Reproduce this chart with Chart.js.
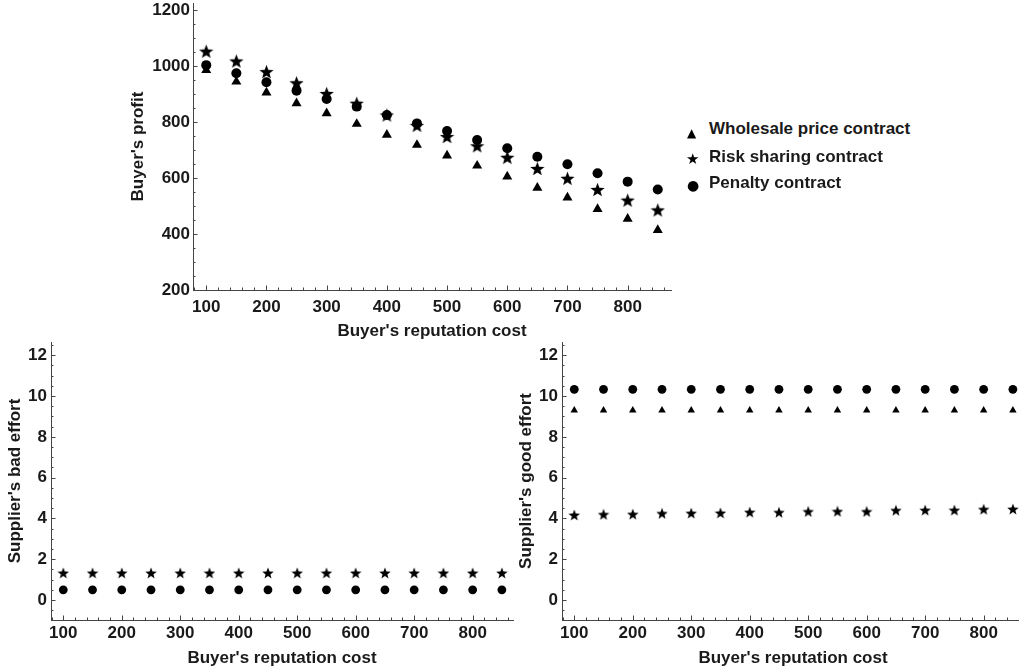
<!DOCTYPE html>
<html>
<head>
<meta charset="utf-8">
<script src="https://cdn.jsdelivr.net/npm/chart.js@4.4.1/dist/chart.umd.min.js"></script>
<style>
  html, body { margin: 0; padding: 0; background: #fff; width: 1019px; height: 669px; overflow: hidden; position: relative; }
  canvas { position: absolute; }
  .leg { position: absolute; font: bold 17px "Liberation Sans", Arial, sans-serif; line-height: 20px; color: #1a1a1a; white-space: nowrap; }
  .sym { position: absolute; font-family: "DejaVu Sans", sans-serif; color: #000; line-height: 1; }
</style>
</head>
<body>
<canvas id="top" width="600" height="349" style="left:100px;top:-4px;"></canvas>
<canvas id="bad" width="530" height="334" style="left:0px;top:335px;"></canvas>
<canvas id="good" width="530" height="334" style="left:500px;top:335px;"></canvas>

<div class="sym" style="left:687px;top:127px;font-size:12px;">▲</div>
<div class="sym" style="left:686px;top:152px;font-size:15px;">★</div>
<div class="sym" style="left:687px;top:178px;font-size:14px;">●</div>
<div class="leg" style="left:709px;top:119px;">Wholesale price contract</div>
<div class="leg" style="left:709px;top:147px;">Risk sharing contract</div>
<div class="leg" style="left:709px;top:173px;">Penalty contract</div>

<script>
// ---------------- DATA ----------------
const reputationCost = [100, 150, 200, 250, 300, 350, 400, 450, 500, 550, 600, 650, 700, 750, 800, 850];

const profitWholesale   = [985, 944, 905, 867, 831, 793, 754, 718, 680, 644, 605, 565, 530, 489, 454, 414];
const profitRiskSharing = [1053, 1018, 980, 940, 902, 867, 825, 788, 748, 715, 674, 634, 599, 559, 521, 486];
const profitPenalty     = [1003, 974, 942, 912, 882, 855, 825, 795, 768, 736, 706, 676, 649, 617, 587, 559];

const badEffortRiskSharing = [1.33, 1.33, 1.33, 1.33, 1.33, 1.33, 1.33, 1.33, 1.33, 1.33, 1.33, 1.33, 1.33, 1.33, 1.33, 1.33];
const badEffortPenalty     = [0.5, 0.5, 0.5, 0.5, 0.5, 0.5, 0.5, 0.5, 0.5, 0.5, 0.5, 0.5, 0.5, 0.5, 0.5, 0.5];

const goodEffortWholesale   = [9.3, 9.3, 9.3, 9.3, 9.3, 9.3, 9.3, 9.3, 9.3, 9.3, 9.3, 9.3, 9.3, 9.3, 9.3, 9.3];
const goodEffortRiskSharing = [4.17, 4.2, 4.21, 4.25, 4.26, 4.27, 4.31, 4.3, 4.34, 4.35, 4.34, 4.4, 4.41, 4.41, 4.45, 4.46];
const goodEffortPenalty     = [10.33, 10.33, 10.33, 10.33, 10.33, 10.33, 10.33, 10.33, 10.33, 10.33, 10.33, 10.33, 10.33, 10.33, 10.33, 10.33];

const xTickValues      = [100, 200, 300, 400, 500, 600, 700, 800];
const profitTickValues = [200, 400, 600, 800, 1000, 1200];
const effortTickValues = [0, 2, 4, 6, 8, 10, 12];

const xTitle = "Buyer's reputation cost";
const seriesNames = ["Wholesale price contract", "Risk sharing contract", "Penalty contract"];

// ---------------- STYLE ----------------
const FONT = { family: '"Liberation Sans", Arial, sans-serif', size: 17, weight: 'bold' };
const TEXT = '#1a1a1a';
const AXIS = '#444';

function makeStar(size) {
  const c = document.createElement('canvas');
  c.width = size; c.height = size;
  const g = c.getContext('2d');
  const cx = size / 2, cy = size / 2 + size * 0.05;
  const R = size / 2, r = R * 0.42;
  g.beginPath();
  for (let i = 0; i < 10; i++) {
    const a = -Math.PI / 2 + i * Math.PI / 5;
    const rad = i % 2 === 0 ? R : r;
    const px = cx + rad * Math.cos(a), py = cy + rad * Math.sin(a);
    if (i === 0) g.moveTo(px, py); else g.lineTo(px, py);
  }
  g.closePath();
  g.fillStyle = '#000';
  g.fill();
  return c;
}

const pts = (ys) => reputationCost.map((x, i) => ({ x, y: ys[i] }));

const insideTicks = {
  id: 'insideTicks',
  afterDraw(chart, args, opts) {
    const { ctx, chartArea: a, scales } = chart;
    ctx.save();
    ctx.strokeStyle = AXIS;
    ctx.lineWidth = 1;
    const draw = (scale, step, len, horiz) => {
      const start = Math.ceil(scale.min / step - 1e-9) * step;
      for (let v = start; v <= scale.max + 1e-9; v += step) {
        const p = Math.round(scale.getPixelForValue(v)) + 0.5;
        ctx.beginPath();
        if (horiz) { ctx.moveTo(p, a.bottom); ctx.lineTo(p, a.bottom - len); }
        else { ctx.moveTo(a.left, p); ctx.lineTo(a.left + len, p); }
        ctx.stroke();
      }
    };
    draw(scales.x, opts.xMinor, 2.5, true);
    draw(scales.x, opts.xMajor, 4.5, true);
    draw(scales.y, opts.yMinor, 2.5, false);
    draw(scales.y, opts.yMajor, 4.5, false);
    ctx.restore();
  }
};

function makeChart(id, cfg) {
  const datasets = cfg.series.map(s => ({
    label: s.label,
    data: pts(s.values),
    showLine: false,
    pointStyle: s.style,
    pointRadius: s.radius,
    pointHoverRadius: s.radius,
    backgroundColor: '#000',
    borderColor: '#000',
    borderWidth: 0,
    order: s.order
  }));
  return new Chart(document.getElementById(id), {
    type: 'scatter',
    data: { datasets },
    plugins: [insideTicks],
    options: {
      responsive: false,
      animation: false,
      devicePixelRatio: 1,
      layout: { padding: cfg.padding },
      plugins: {
        legend: { display: false },
        tooltip: { enabled: false },
        insideTicks: cfg.ticks
      },
      scales: {
        x: {
          type: 'linear',
          min: cfg.xRange[0], max: cfg.xRange[1],
          afterBuildTicks: s => { s.ticks = xTickValues.map(v => ({ value: v })); },
          afterFit: s => { s.height = cfg.xAxisHeight; s.paddingLeft = 0; s.paddingRight = 0; },
          grid: { display: true, drawOnChartArea: false, drawTicks: false },
          border: { display: true, color: AXIS, width: 1 },
          ticks: { font: FONT, color: TEXT, padding: cfg.xTickPad, maxRotation: 0, autoSkip: false, callback: v => String(v) },
          title: { display: true, text: xTitle, font: FONT, color: TEXT, padding: { top: 0, bottom: cfg.xTitlePad } }
        },
        y: {
          type: 'linear',
          min: cfg.yRange[0], max: cfg.yRange[1],
          afterBuildTicks: s => { s.ticks = cfg.yTicks.map(v => ({ value: v })); },
          afterFit: s => { s.width = cfg.yAxisWidth; s.paddingTop = 0; s.paddingBottom = 0; },
          grid: { display: true, drawOnChartArea: false, drawTicks: false },
          border: { display: true, color: AXIS, width: 1 },
          ticks: { font: FONT, color: TEXT, padding: cfg.yTickPad, autoSkip: false, callback: v => String(v) },
          title: { display: true, text: cfg.yTitle, font: FONT, color: TEXT, padding: { top: cfg.yTitlePad, bottom: 0 } }
        }
      }
    }
  });
}

const starBig = makeStar(15);
const starSmall = makeStar(12);

makeChart('top', {
  series: [
    { label: seriesNames[0], values: profitWholesale, style: 'triangle', radius: 5.8, order: 2 },
    { label: seriesNames[1], values: profitRiskSharing, style: starBig, radius: 7, order: 1 },
    { label: seriesNames[2], values: profitPenalty, style: 'circle', radius: 5, order: 0 }
  ],
  padding: { left: 0, top: 7, right: 29, bottom: 0 },
  xRange: [78, 872], yRange: [200, 1225],
  yTicks: profitTickValues,
  xAxisHeight: 55, yAxisWidth: 93,
  xTickPad: 7, xTitlePad: 3, yTickPad: 3, yTitlePad: 28,
  yTitle: "Buyer's profit",
  ticks: { xMinor: 20, xMajor: 100, yMinor: 50, yMajor: 200 }
});

makeChart('bad', {
  series: [
    { label: seriesNames[1], values: badEffortRiskSharing, style: starSmall, radius: 6, order: 1 },
    { label: seriesNames[2], values: badEffortPenalty, style: 'circle', radius: 4.4, order: 0 }
  ],
  padding: { left: 0, top: 7, right: 17, bottom: 0 },
  xRange: [79, 869], yRange: [-0.98, 12.65],
  yTicks: effortTickValues,
  xAxisHeight: 49, yAxisWidth: 51,
  xTickPad: 3, xTitlePad: 0, yTickPad: 4, yTitlePad: 5,
  yTitle: "Supplier's bad effort",
  ticks: { xMinor: 20, xMajor: 100, yMinor: 0.5, yMajor: 2 }
});

makeChart('good', {
  series: [
    { label: seriesNames[0], values: goodEffortWholesale, style: 'triangle', radius: 4.3, order: 2 },
    { label: seriesNames[1], values: goodEffortRiskSharing, style: starSmall, radius: 6, order: 1 },
    { label: seriesNames[2], values: goodEffortPenalty, style: 'circle', radius: 4.4, order: 0 }
  ],
  padding: { left: 0, top: 7, right: 6, bottom: 0 },
  xRange: [79, 869], yRange: [-0.98, 12.65],
  yTicks: effortTickValues,
  xAxisHeight: 49, yAxisWidth: 62,
  xTickPad: 3, xTitlePad: 0, yTickPad: 4, yTitlePad: 16.5,
  yTitle: "Supplier's good effort",
  ticks: { xMinor: 20, xMajor: 100, yMinor: 0.5, yMajor: 2 }
});
</script>
</body>
</html>
